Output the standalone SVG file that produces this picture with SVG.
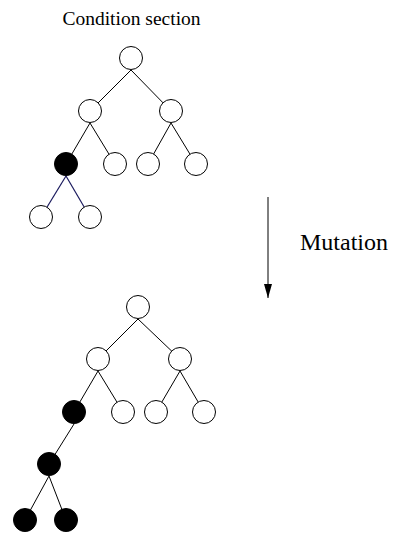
<svg xmlns="http://www.w3.org/2000/svg" width="398" height="535" viewBox="0 0 398 535">
  <style>
    .lbl { font-family: "Liberation Serif", "Times New Roman", serif; fill: #000; }
    .edge { stroke: #000; stroke-width: 1; fill: none; }
    .edge-navy { stroke: #1a1a5e; stroke-width: 1.2; fill: none; }
    .node circle { stroke: #000; stroke-width: 1; }
    .open circle { fill: #fff; }
    .filled circle { fill: #000; }
  </style>
  <defs>
    <marker id="arrowhead" markerWidth="14" markerHeight="8" refX="14" refY="4" orient="auto" markerUnits="userSpaceOnUse" viewBox="0 0 14 8">
      <path d="M0,0 L14,4 L0,8 Z" fill="#000"/>
    </marker>
  </defs>

  <rect width="398" height="535" fill="#fff"/>

  <!-- labels -->
  <text class="lbl" x="131.5" y="25" font-size="19.5" text-anchor="middle">Condition section</text>
  <text class="lbl" x="300" y="250" font-size="24">Mutation</text>

  <!-- connectors -->
  <g id="connectors">
    <!-- upper tree -->
    <line class="edge" x1="131" y1="70" x2="90" y2="111"/>
    <line class="edge" x1="131" y1="70" x2="171" y2="111"/>
    <line class="edge" x1="90" y1="123" x2="66" y2="164"/>
    <line class="edge" x1="90" y1="123" x2="115" y2="164"/>
    <line class="edge" x1="171" y1="123" x2="148" y2="164"/>
    <line class="edge" x1="171" y1="123" x2="196" y2="164"/>
    <line class="edge-navy" x1="66" y1="176" x2="41" y2="217"/>
    <line class="edge-navy" x1="66" y1="176" x2="90" y2="217"/>
    <!-- lower tree -->
    <line class="edge" x1="138" y1="319" x2="98" y2="359"/>
    <line class="edge" x1="138" y1="319" x2="180" y2="359"/>
    <line class="edge" x1="98" y1="371" x2="74" y2="412"/>
    <line class="edge" x1="98" y1="371" x2="123" y2="412"/>
    <line class="edge" x1="180" y1="371" x2="156" y2="412"/>
    <line class="edge" x1="180" y1="371" x2="204" y2="412"/>
    <line class="edge" x1="74" y1="424" x2="49" y2="464"/>
    <line class="edge" x1="49" y1="476" x2="25" y2="520"/>
    <line class="edge" x1="49" y1="476" x2="66" y2="520"/>
    <!-- mutation arrow -->
    <line class="edge" x1="268" y1="197" x2="268" y2="298" marker-end="url(#arrowhead)"/>
  </g>

  <!-- upper tree nodes -->
  <g id="a0" class="node open"><circle cx="131" cy="58" r="11.5"/></g>
  <g id="a1" class="node open"><circle cx="90" cy="111" r="11.5"/></g>
  <g id="a2" class="node open"><circle cx="171" cy="111" r="11.5"/></g>
  <g id="a3" class="node filled"><circle cx="66" cy="164" r="11.5"/></g>
  <g id="a4" class="node open"><circle cx="115" cy="164" r="11.5"/></g>
  <g id="a5" class="node open"><circle cx="148" cy="164" r="11.5"/></g>
  <g id="a6" class="node open"><circle cx="196" cy="164" r="11.5"/></g>
  <g id="a7" class="node open"><circle cx="41" cy="217" r="11.5"/></g>
  <g id="a8" class="node open"><circle cx="90" cy="217" r="11.5"/></g>

  <!-- lower tree nodes -->
  <g id="b0" class="node open"><circle cx="138" cy="307" r="11.5"/></g>
  <g id="b1" class="node open"><circle cx="98" cy="359" r="11.5"/></g>
  <g id="b2" class="node open"><circle cx="180" cy="359" r="11.5"/></g>
  <g id="b3" class="node filled"><circle cx="74" cy="412" r="11.5"/></g>
  <g id="b4" class="node open"><circle cx="123" cy="412" r="11.5"/></g>
  <g id="b5" class="node open"><circle cx="156" cy="412" r="11.5"/></g>
  <g id="b6" class="node open"><circle cx="204" cy="412" r="11.5"/></g>
  <g id="b7" class="node filled"><circle cx="49" cy="464" r="11.5"/></g>
  <g id="b8" class="node filled"><circle cx="25" cy="520" r="11.5"/></g>
  <g id="b9" class="node filled"><circle cx="66" cy="520" r="11.5"/></g>
</svg>
